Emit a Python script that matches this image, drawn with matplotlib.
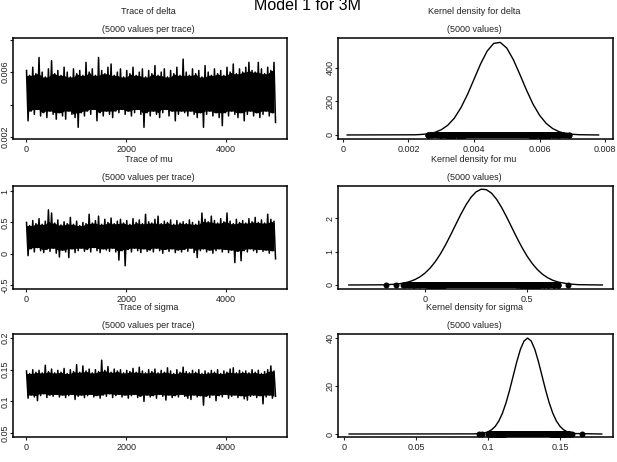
import numpy as np, matplotlib
matplotlib.use('Agg')
import matplotlib.pyplot as plt

plt.rcParams['font.family'] = ['Liberation Sans', 'DejaVu Sans']
TXT = '#222222'

# ---- trace extremes (alternating local highs / lows, 80 each) ----
delta_hi = [0.0061,0.0058,0.0063,0.0059,0.0069,0.0060,0.0057,0.0062,0.0067,0.0059,
            0.0061,0.0058,0.0063,0.0060,0.0057,0.0062,0.0059,0.0061,0.0058,0.0066,
            0.0060,0.0062,0.0058,0.0069,0.0061,0.0059,0.0063,0.0065,0.0058,0.0060,
            0.0062,0.0057,0.0061,0.0059,0.0063,0.0058,0.0060,0.0062,0.0057,0.0061,
            0.0059,0.0064,0.0058,0.0060,0.0062,0.0057,0.0061,0.0059,0.0063,0.0058,
            0.0068,0.0060,0.0058,0.0062,0.0059,0.0061,0.0057,0.0064,0.0060,0.0058,
            0.0062,0.0059,0.0061,0.0058,0.0063,0.0060,0.0065,0.0059,0.0062,0.0060,
            0.0063,0.0066,0.0061,0.0060,0.0066,0.0062,0.0059,0.0063,0.0061,0.0066]
delta_lo = [0.0030,0.0036,0.0034,0.0037,0.0033,0.0035,0.0032,0.0036,0.0034,0.0031,
            0.0035,0.0033,0.0031,0.0036,0.0034,0.0032,0.0026,0.0035,0.0033,0.0036,
            0.0034,0.0037,0.0030,0.0035,0.0033,0.0036,0.0034,0.0032,0.0036,0.0035,
            0.0037,0.0034,0.0036,0.0033,0.0035,0.0037,0.0034,0.0026,0.0035,0.0033,
            0.0036,0.0034,0.0032,0.0035,0.0037,0.0033,0.0036,0.0030,0.0034,0.0036,
            0.0035,0.0033,0.0036,0.0034,0.0032,0.0035,0.0026,0.0034,0.0036,0.0033,
            0.0035,0.0032,0.0027,0.0035,0.0033,0.0036,0.0034,0.0032,0.0035,0.0030,
            0.0034,0.0036,0.0033,0.0035,0.0032,0.0034,0.0036,0.0033,0.0035,0.0029]
mu_hi = [0.50,0.45,0.53,0.48,0.56,0.47,0.52,0.70,0.65,0.49,
         0.54,0.46,0.51,0.48,0.58,0.47,0.52,0.45,0.50,0.48,
         0.63,0.49,0.53,0.60,0.47,0.55,0.50,0.57,0.48,0.52,
         0.55,0.49,0.53,0.47,0.56,0.50,0.54,0.48,0.63,0.51,
         0.49,0.55,0.60,0.48,0.52,0.50,0.54,0.47,0.53,0.49,
         0.51,0.48,0.54,0.50,0.47,0.52,0.65,0.55,0.51,0.60,
         0.53,0.49,0.56,0.51,0.65,0.52,0.48,0.55,0.50,0.53,
         0.49,0.56,0.51,0.58,0.50,0.54,0.49,0.63,0.55,0.52]
mu_lo = [-0.03,0.08,0.03,0.10,0.05,0.02,0.07,0.04,0.09,0.01,
         -0.05,0.06,0.03,-0.06,0.08,0.02,0.05,0.09,0.04,0.07,
         0.03,0.10,0.05,0.02,0.08,0.06,0.04,0.09,0.03,-0.10,
         0.05,-0.19,0.07,0.03,0.09,0.05,0.02,0.08,0.04,0.06,
         0.03,0.09,0.05,0.01,0.07,0.04,0.08,0.02,0.06,0.03,
         0.07,0.04,0.09,0.02,-0.06,0.05,0.08,0.03,0.06,0.01,
         0.05,0.08,0.03,0.07,0.02,0.06,-0.14,0.04,-0.11,0.05,
         0.03,0.08,0.05,0.02,0.07,0.04,0.06,0.01,0.05,-0.08]
sigma_hi = [0.148,0.144,0.150,0.146,0.149,0.145,0.157,0.147,0.151,0.145,
            0.149,0.146,0.152,0.144,0.150,0.147,0.158,0.146,0.156,0.148,
            0.151,0.145,0.150,0.147,0.165,0.149,0.155,0.146,0.151,0.148,
            0.150,0.145,0.149,0.147,0.152,0.146,0.154,0.148,0.145,0.150,
            0.147,0.151,0.145,0.149,0.146,0.153,0.148,0.144,0.150,0.146,
            0.154,0.147,0.145,0.149,0.146,0.150,0.144,0.148,0.145,0.149,
            0.146,0.150,0.144,0.148,0.146,0.151,0.153,0.145,0.149,0.146,
            0.148,0.145,0.150,0.146,0.149,0.144,0.147,0.150,0.156,0.148]
sigma_lo = [0.105,0.110,0.107,0.101,0.109,0.112,0.106,0.110,0.108,0.111,
            0.107,0.110,0.106,0.109,0.111,0.103,0.108,0.110,0.106,0.109,
            0.111,0.107,0.109,0.105,0.110,0.108,0.112,0.106,0.109,0.111,
            0.107,0.110,0.105,0.109,0.111,0.106,0.108,0.100,0.110,0.107,
            0.109,0.105,0.111,0.108,0.102,0.110,0.106,0.109,0.107,0.111,
            0.108,0.105,0.103,0.110,0.107,0.109,0.094,0.108,0.106,0.110,
            0.101,0.109,0.107,0.111,0.105,0.108,0.110,0.106,0.109,0.104,
            0.102,0.108,0.110,0.106,0.109,0.096,0.107,0.110,0.105,0.108]

# ---- kernel density curves ----
delta_kx = [0.00013,0.0022,0.0024,0.0026,0.0028,0.0030,0.0032,0.0034,0.0036,0.0038,0.0040,
            0.0042,0.0044,0.0046,0.0048,0.0050,0.0052,0.0054,0.0056,0.0058,0.0060,
            0.0062,0.0064,0.0066,0.0068,0.0070,0.0072,0.0078]
delta_ky = [0,1,3,7,15,31,58,100,162,240,331,422,498,544,550,516,447,359,267,183,117,
            69,38,19,9,4,1.5,0]
mu_kx = [-0.373,-0.20,-0.150,-0.125,-0.100,-0.075,-0.050,-0.025,0.000,0.025,0.050,0.075,
         0.100,0.125,0.150,0.175,0.200,0.225,0.250,0.275,0.300,0.325,0.350,0.375,0.400,
         0.425,0.450,0.475,0.500,0.525,0.550,0.575,0.600,0.625,0.650,0.700,0.750,0.868]
mu_ky = [0,0.005,0.022,0.038,0.063,0.102,0.160,0.243,0.356,0.506,0.696,0.926,1.195,1.492,
         1.803,2.111,2.391,2.623,2.785,2.864,2.851,2.748,2.564,2.316,2.026,1.716,1.407,
         1.117,0.858,0.639,0.460,0.321,0.217,0.142,0.090,0.033,0.009,0]
sigma_kx = [0.0035,0.090,0.0950,0.0975,0.1000,0.1025,0.1050,0.1075,0.1100,0.1125,0.1150,
            0.1175,0.1200,0.1225,0.1250,0.1275,0.1300,0.1325,0.1350,0.1375,0.1400,0.1425,
            0.1450,0.1475,0.1500,0.1525,0.1550,0.1575,0.1600,0.179]
sigma_ky = [0,0.05,0.2,0.44,0.91,1.76,3.18,5.41,8.65,12.99,18.32,24.26,30.19,35.3,38.77,40,
            38.77,35.3,30.19,24.26,18.32,12.99,8.65,5.41,3.18,1.76,0.91,0.44,0.2,0]

params = ['delta', 'mu', 'sigma']
traces = [(delta_hi, delta_lo), (mu_hi, mu_lo), (sigma_hi, sigma_lo)]
kdes = [(delta_kx, delta_ky), (mu_kx, mu_ky), (sigma_kx, sigma_ky)]
trace_ylim = [(0.00188, 0.0081), (-0.56, 1.08), (0.0437, 0.2064)]
trace_yticks = [[0.002, 0.004, 0.006, 0.008], [-0.5, 0, 0.5, 1], [0.05, 0.1, 0.15, 0.2]]
trace_ylabels = [['0.002', '', '0.006', ''], ['-0.5', '0', '0.5', '1'], ['0.05', '0.1', '0.15', '0.2']]
kde_xlim = [(-0.00015, 0.00824), (-0.426, 0.92), (-0.0042, 0.1868)]
kde_ylim = [(-24, 576), (-0.12, 2.96), (-1.25, 41.7)]
kde_xticks = [[0, 0.002, 0.004, 0.006, 0.008], [0, 0.5], [0, 0.05, 0.1, 0.15]]
kde_xlabels = [['0', '0.002', '0.004', '0.006', '0.008'], ['0', '0.5'], ['0', '0.05', '0.1', '0.15']]
kde_yticks = [[0, 200, 400], [0, 1, 2], [0, 20, 40]]

W, H = 617, 462
FS = 6.5
fig = plt.figure(figsize=(W/100, H/100), dpi=100)
def px_axes(x0, y0, x1, y1):
    return fig.add_axes([x0/W, 1-y1/H, (x1-x0)/W, (y1-y0)/H])

def style(ax):
    for s in ax.spines.values():
        s.set_linewidth(1.1); s.set_color('black')
    ax.tick_params(direction='out', length=2, width=0.8, labelsize=FS, colors=TXT, pad=0.3)
    ax.tick_params(axis='x', pad=2.5)

def titles(ax, t, sub):
    ax.annotate(t, xy=(0.5, 1), xycoords='axes fraction', xytext=(-1, 17), textcoords='offset points',
                ha='center', va='baseline', fontsize=FS, color=TXT)
    ax.annotate(sub, xy=(0.5, 1), xycoords='axes fraction', xytext=(-1, 4.5), textcoords='offset points',
                ha='center', va='baseline', fontsize=FS, color=TXT)

rows = [(38, 139), (186, 289), (334, 437)]
for i, p in enumerate(params):
    y0, y1 = rows[i]
    # trace panel
    ax = px_axes(13, y0, 287, y1)
    hi, lo = np.array(traces[i][0]), np.array(traces[i][1])
    vals = np.ravel(np.column_stack([hi, lo]))
    it = np.linspace(1, 5000, len(vals))
    # dense core of the chain: inner envelope of neighbouring highs / lows
    core_top = np.minimum.reduce([hi, np.roll(hi, 1), np.roll(hi, -1)])
    core_bot = np.maximum.reduce([lo, np.roll(lo, 1), np.roll(lo, -1)])
    ax.fill_between(it[::2], core_bot, core_top, color='black', lw=0)
    ax.plot(it, vals, color='black', lw=1.1)
    ax.set_xlim(-270, 5230); ax.set_ylim(*trace_ylim[i])
    ax.set_xticks([0, 2000, 4000])
    ax.set_yticks(trace_yticks[i])
    ax.set_yticklabels(trace_ylabels[i], rotation=90, va='center')
    style(ax)
    titles(ax, 'Trace of ' + p, '(5000 values per trace)')

    # kernel density panel
    ax = px_axes(338, y0, 613, y1)
    kx, ky = kdes[i]
    ax.plot(kx, ky, color='black', lw=1.0)
    srt = np.sort(vals)
    ax.plot([srt[3], srt[-4]], [0, 0], color='black', lw=4.3, solid_capstyle='round')
    ax.plot(vals, np.zeros_like(vals), 'o', color='black', ms=4.3, mec='none')
    ax.set_xlim(*kde_xlim[i]); ax.set_ylim(*kde_ylim[i])
    ax.set_xticks(kde_xticks[i]); ax.set_xticklabels(kde_xlabels[i])
    ax.set_yticks(kde_yticks[i])
    ax.set_yticklabels([str(v) for v in kde_yticks[i]], rotation=90, va='center')
    style(ax)
    titles(ax, 'Kernel density for ' + p, '(5000 values)')

fig.text(308/W, 1-6/H, 'Model 1 for 3M', ha='center', va='center', fontsize=11.5, color='black')
fig.savefig('out.png', dpi=100)
